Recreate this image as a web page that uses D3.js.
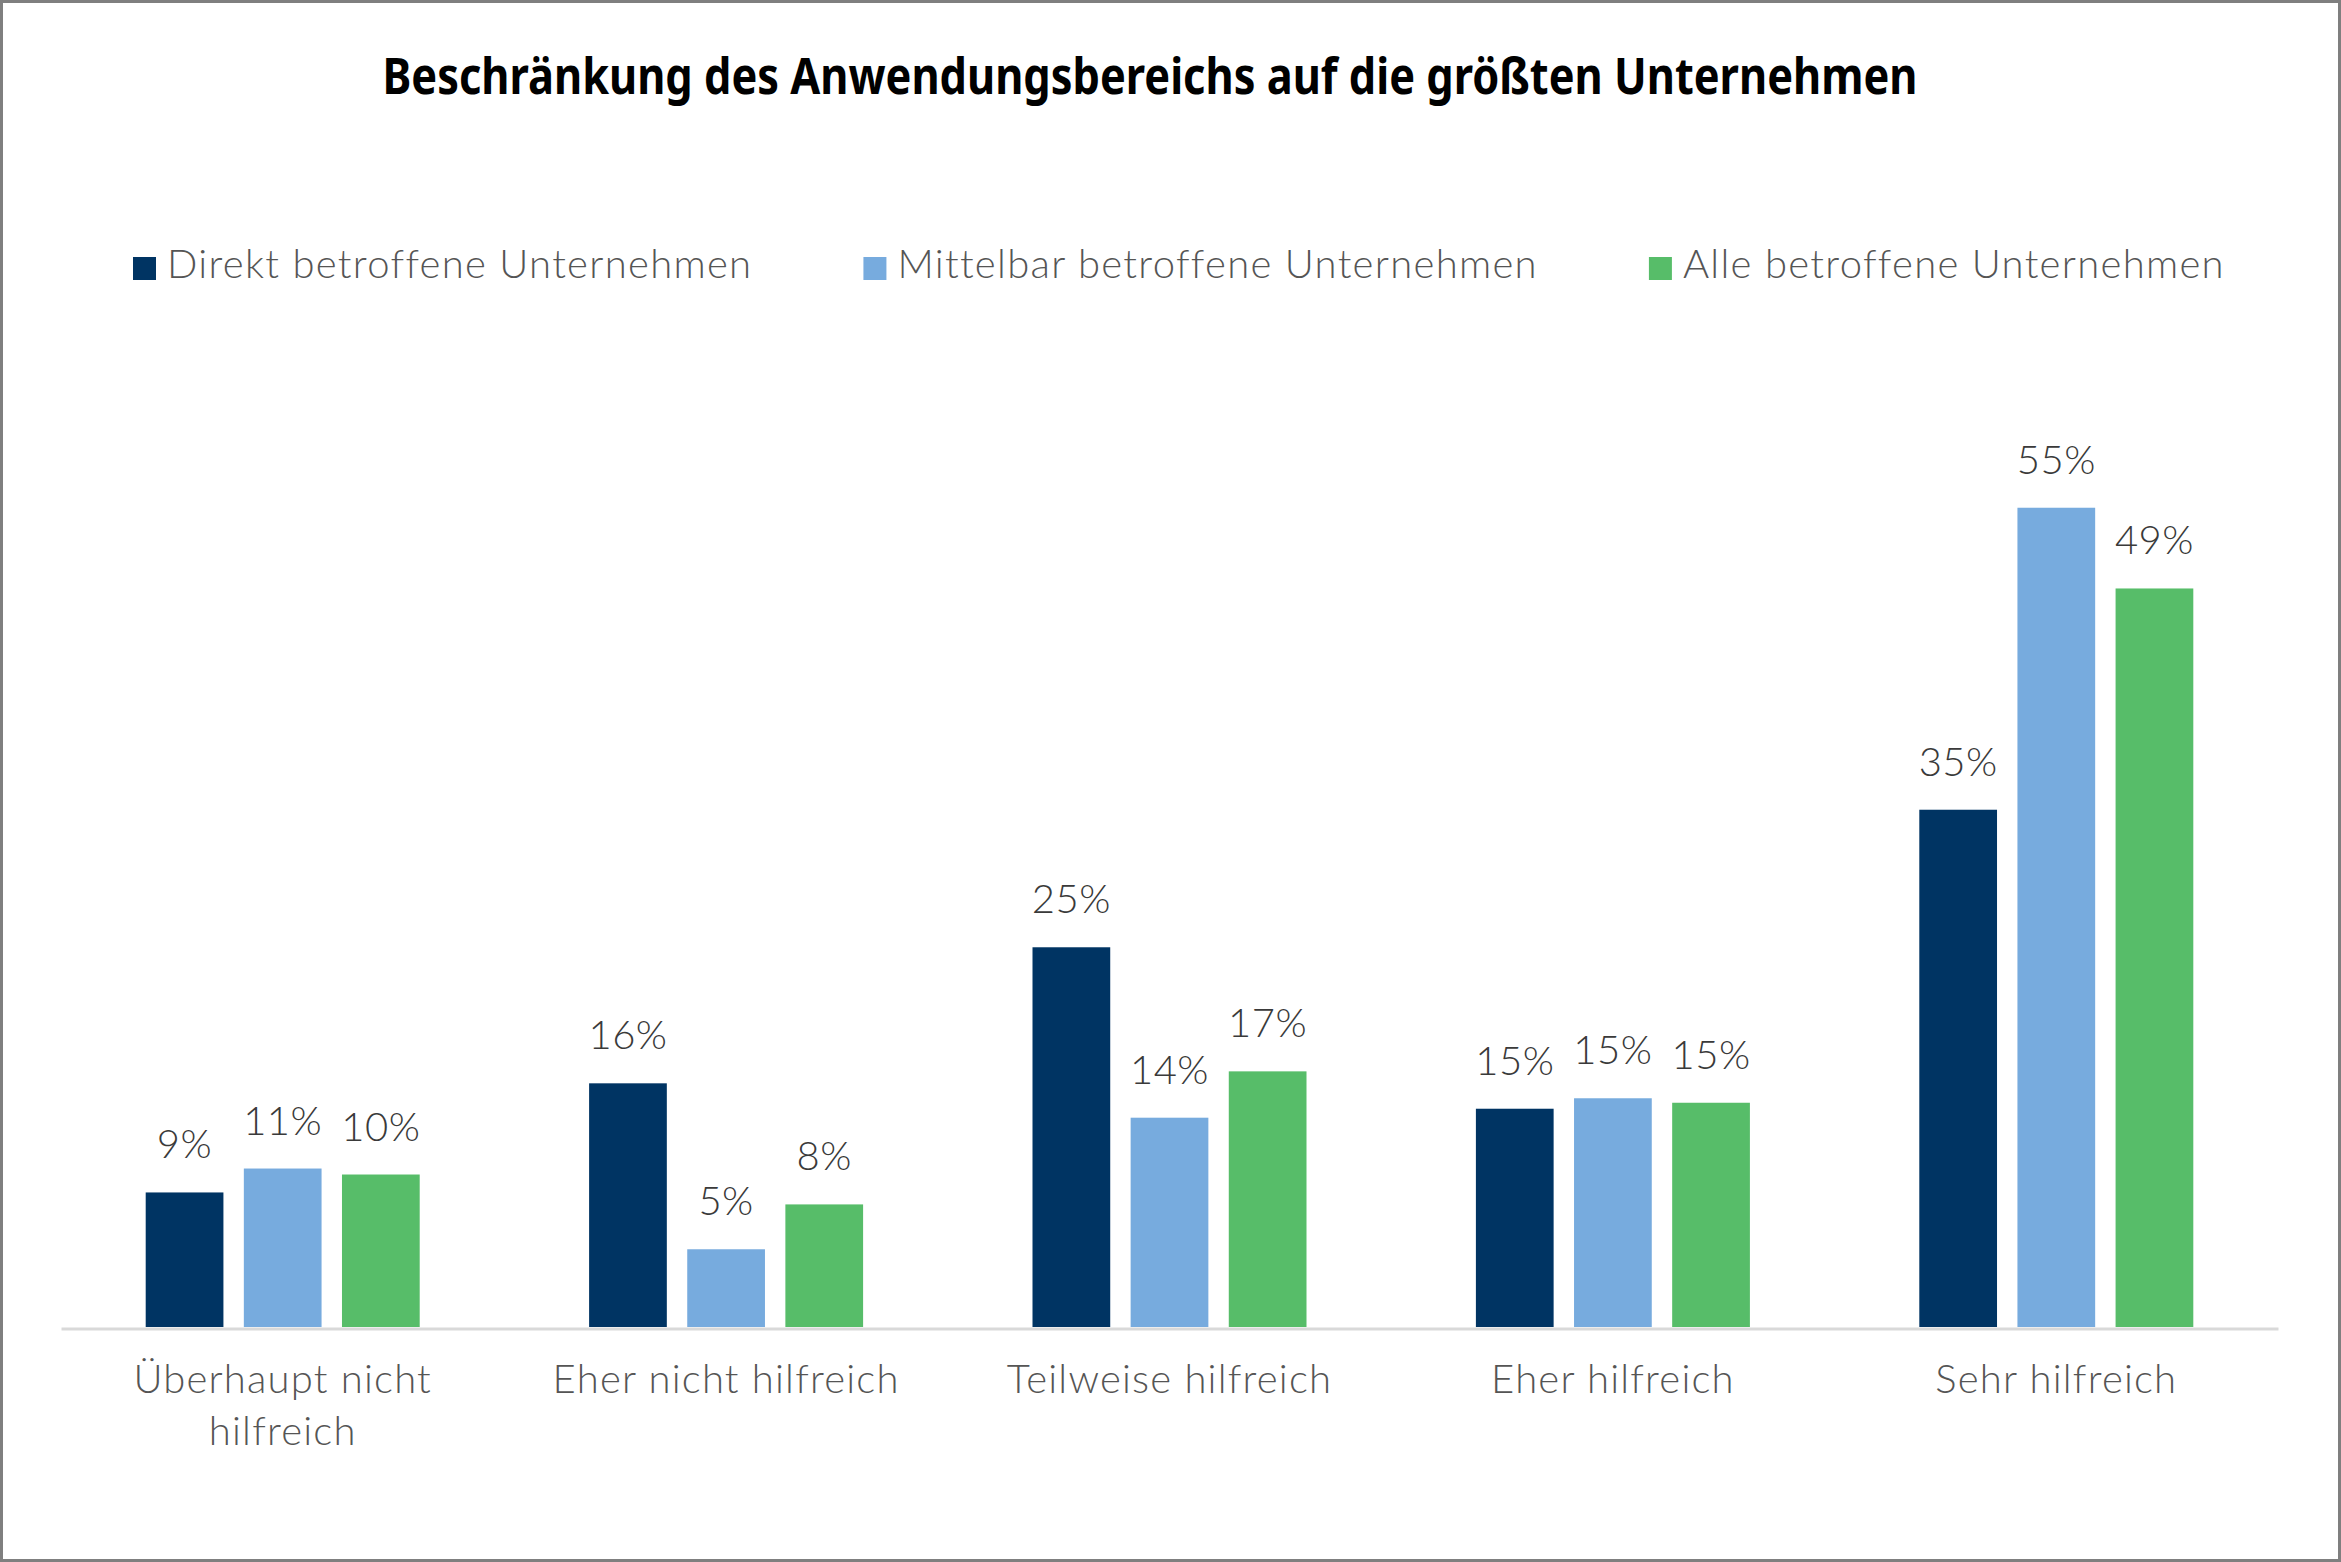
<!DOCTYPE html>
<html>
<head>
<meta charset="utf-8">
<script src="https://cdn.jsdelivr.net/npm/d3@7/dist/d3.min.js"></script>
<style>
  html, body { margin: 0; padding: 0; background: #fff; }
  svg { display: block; }
</style>
</head>
<body>
<script>
// DATA
const categories = ['Überhaupt nicht hilfreich', 'Eher nicht hilfreich', 'Teilweise hilfreich', 'Eher hilfreich', 'Sehr hilfreich'];
const seriesNames = ['Direkt betroffene Unternehmen', 'Mittelbar betroffene Unternehmen', 'Alle betroffene Unternehmen'];
const direktValues = [9.0, 16.3, 25.4, 14.6, 34.6];
const mittelbarValues = [10.6, 5.2, 14.0, 15.3, 54.8];
const alleValues = [10.2, 8.2, 17.1, 15.0, 49.4];
const seriesColors = ['#003463', '#77abde', '#57bd69'];
const chartTitle = 'Beschränkung des Anwendungsbereichs auf die größten Unternehmen';

const W = 2341, H = 1562;
const font = "Lato, 'Open Sans', 'DejaVu Sans', sans-serif";

const svg = d3.select('body').append('svg')
  .attr('width', W)
  .attr('height', H);

// frame
svg.append('rect')
  .attr('x', 1.5).attr('y', 1.5)
  .attr('width', W - 3).attr('height', H - 3)
  .attr('fill', '#fff')
  .attr('stroke', '#7f7f7f')
  .attr('stroke-width', 3);

// TITLE
svg.append('text')
  .attr('x', 1150)
  .attr('y', 94)
  .attr('text-anchor', 'middle')
  .attr('textLength', 1535)
  .attr('lengthAdjust', 'spacingAndGlyphs')
  .style('font-family', "'Noto Sans', 'Open Sans', sans-serif")
  .style('font-weight', 700)
  .style('font-size', '51px')
  .style('fill', '#000')
  .text(chartTitle);

// SCALES
const allSeries = [direktValues, mittelbarValues, alleValues];
const dataset = categories.map((c, i) => allSeries.map(s => s[i]));

const x0 = d3.scaleBand()
  .domain(d3.range(categories.length))
  .range([61, 2278]);

const groupWidth = 274;
const x1 = d3.scaleBand()
  .domain(d3.range(seriesNames.length))
  .range([-groupWidth / 2, groupWidth / 2])
  .paddingInner(0.208);

const y = d3.scaleLinear()
  .domain([0, 60])
  .range([1327, 430]);

// BARS
const outerBand = svg.selectAll('.outerBand')
  .data(dataset)
  .enter()
  .append('g')
  .attr('class', 'outerBand')
  .attr('transform', (d, i) => `translate(${x0(i) + x0.bandwidth() / 2},0)`);

const innerBand = outerBand.selectAll('g')
  .data(d => d)
  .enter()
  .append('g')
  .attr('transform', (d, i) => `translate(${x1(i)},0)`);

innerBand.append('rect')
  .attr('y', d => y(d))
  .attr('width', x1.bandwidth())
  .attr('height', d => y(0) - y(d))
  .style('fill', (d, i) => seriesColors[i]);

innerBand.append('text')
  .attr('x', x1.bandwidth() / 2)
  .attr('y', d => y(d) - 34)
  .attr('text-anchor', 'middle')
  .style('font-family', font)
  .style('font-weight', 300)
  .style('font-size', '40px')
  .style('letter-spacing', '0.5px')
  .style('fill', '#3a3a3a')
  .text(d => Math.round(d) + '%');

// X AXIS
const xAxis = d3.axisBottom(x0)
  .tickSize(0)
  .tickSizeOuter(0)
  .tickFormat(i => categories[i]);

const axisG = svg.append('g')
  .attr('class', 'x axis')
  .attr('transform', `translate(0,${y(0) + 1.5})`)
  .call(xAxis);

axisG.select('.domain')
  .attr('stroke', '#d9d9d9')
  .attr('stroke-width', 3);

axisG.selectAll('.tick text')
  .attr('y', 64)
  .attr('dy', 0)
  .style('font-family', font)
  .style('font-weight', 300)
  .style('font-size', '40px')
  .style('letter-spacing', '1.2px')
  .style('fill', '#555555')
  .each(function(i) {
    const t = d3.select(this);
    const words = categories[i].split(' ');
    t.text(null);
    let line = [];
    let tspan = t.append('tspan').attr('x', 0).attr('dy', 0);
    words.forEach(w => {
      line.push(w);
      tspan.text(line.join(' '));
      if (tspan.node().getComputedTextLength() > 410 && line.length > 1) {
        line.pop();
        tspan.text(line.join(' '));
        line = [w];
        tspan = t.append('tspan').attr('x', 0).attr('dy', 52).text(w);
      }
    });
  });

// LEGEND
const legend = svg.append('g').attr('class', 'legend');
const items = legend.selectAll('g')
  .data(seriesNames)
  .enter()
  .append('g');

items.append('rect')
  .attr('y', 257)
  .attr('width', 23)
  .attr('height', 23)
  .style('fill', (d, i) => seriesColors[i]);

items.append('text')
  .attr('x', 34)
  .attr('y', 278)
  .style('font-family', font)
  .style('font-weight', 300)
  .style('font-size', '40px')
  .style('letter-spacing', '1.3px')
  .style('fill', '#555555')
  .text(d => d);

// lay out the legend items side by side
const widths = [];
items.each(function() { widths.push(34 + d3.select(this).select('text').node().getComputedTextLength()); });
const gap = 111;
let lx = 133;
items.each(function(d, i) {
  d3.select(this).attr('transform', `translate(${lx},0)`);
  lx += widths[i] + gap;
});
</script>
</body>
</html>
